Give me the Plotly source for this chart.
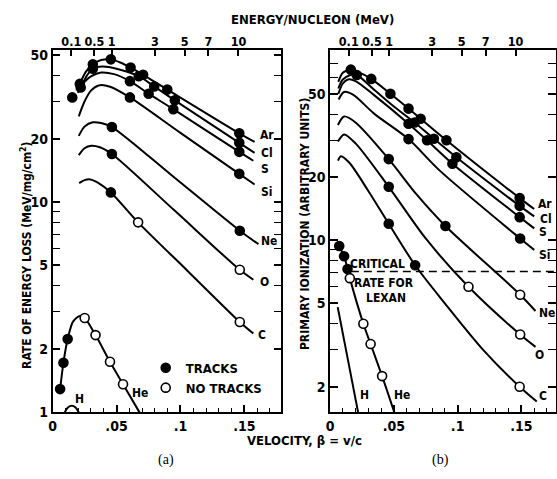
import math
import plotly.graph_objects as go

# ---------------- DATA ----------------
# Panel (a): rate of energy loss (MeV/mg/cm^2) vs velocity beta
AR_A_B = [0.0195, 0.0213, 0.026, 0.0315, 0.038, 0.0456, 0.053, 0.061, 0.0708, 0.0897, 0.146, 0.158]
AR_A_V = [34.5, 36.4, 41.5, 45.1, 47.3, 47.6, 46.0, 43.5, 40.2, 34.2, 21.2, 19.3]
CL_A_B = [0.0198, 0.022, 0.027, 0.0315, 0.039, 0.05, 0.0674, 0.0795, 0.0956, 0.146, 0.158]
CL_A_V = [33.0, 35.0, 40.0, 43.0, 44.0, 43.0, 39.6, 35.4, 30.4, 19.1, 17.1]
S_A_B = [0.0205, 0.025, 0.03, 0.038, 0.048, 0.0605, 0.0751, 0.0944, 0.146, 0.157]
S_A_V = [33.9, 37.2, 39.5, 41.2, 40.5, 37.5, 32.7, 27.6, 17.3, 15.7]
SI_A_B = [0.0205, 0.025, 0.03, 0.036, 0.045, 0.0605, 0.1, 0.146, 0.158]
SI_A_V = [25.5, 30.0, 33.8, 35.8, 35.3, 31.4, 21.3, 13.6, 12.1]
NE_A_B = [0.0205, 0.025, 0.0315, 0.038, 0.0464, 0.095, 0.1464, 0.161]
NE_A_V = [20.6, 22.8, 23.9, 23.7, 22.7, 13.1, 7.3, 6.3]
O_A_B = [0.0205, 0.025, 0.0303, 0.037, 0.0464, 0.095, 0.1464, 0.157]
O_A_V = [16.7, 18.0, 18.5, 18.2, 16.9, 9.15, 4.76, 4.27]
C_A_B = [0.0208, 0.025, 0.0295, 0.036, 0.0456, 0.0669, 0.105, 0.1464, 0.157]
C_A_V = [12.3, 12.7, 12.8, 12.3, 11.1, 8.0, 4.74, 2.69, 2.37]
HE_A_B = [0.0059, 0.0085, 0.0118, 0.016, 0.0213, 0.0251, 0.0336, 0.0449, 0.0551, 0.068]
HE_A_V = [1.29, 1.72, 2.23, 2.7, 2.87, 2.81, 2.33, 1.74, 1.36, 1.0]
H_A_B = [0.0095, 0.012, 0.015, 0.018, 0.0205]
H_A_V = [1.0, 1.055, 1.075, 1.055, 1.0]

# measured points in panel (a): beta, value, T = tracks, N = no tracks
PTS_A_B = [0.0154, 0.0213, 0.0315, 0.0456, 0.061, 0.0708, 0.0897, 0.146,
           0.022, 0.0315, 0.0674, 0.0795, 0.0956, 0.146,
           0.0605, 0.0751, 0.0944, 0.146,
           0.0605, 0.146,
           0.0464, 0.1464,
           0.0464, 0.1464,
           0.0456, 0.0669, 0.1464,
           0.0059, 0.0085, 0.0118, 0.0251, 0.0336, 0.0449, 0.0551]
PTS_A_V = [31.4, 36.4, 45.1, 47.6, 43.5, 40.2, 34.2, 21.2,
           35.0, 43.0, 39.6, 35.4, 30.4, 19.1,
           37.5, 32.7, 27.6, 17.3,
           31.4, 13.6,
           22.7, 7.3,
           16.9, 4.76,
           11.1, 8.0, 2.69,
           1.29, 1.72, 2.23, 2.81, 2.33, 1.74, 1.36]
PTS_A_S = ["T"] * 8 + ["T"] * 6 + ["T"] * 4 + ["T"] * 2 + ["T", "T"] + ["T", "N"] + \
          ["T", "N", "N"] + ["T", "T", "T", "N", "N", "N", "N"]

# Panel (b): primary ionization (arbitrary units) vs velocity beta
AR_B_B = [0.0065, 0.01, 0.0163, 0.0209, 0.0323, 0.0473, 0.0615, 0.071, 0.0912, 0.1486, 0.16]
AR_B_V = [57, 63, 65.2, 64.0, 58.9, 50.0, 42.5, 38.0, 30.0, 15.9, 14.1]
CL_B_B = [0.0065, 0.01, 0.016, 0.0209, 0.035, 0.05, 0.0663, 0.0814, 0.099, 0.1486, 0.16]
CL_B_V = [53, 58.5, 61.5, 61.5, 52.0, 43.5, 36.5, 30.5, 24.9, 14.6, 13.0]
S_B_B = [0.0065, 0.01, 0.014, 0.02, 0.035, 0.0615, 0.076, 0.0959, 0.1486, 0.16]
S_B_V = [50, 56, 58.5, 57.5, 49, 36.0, 30.0, 23.2, 12.9, 11.4]
SI_B_B = [0.0067, 0.011, 0.018, 0.035, 0.0615, 0.086, 0.149, 0.16]
SI_B_V = [47, 51, 49.5, 40, 30.4, 21.5, 10.2, 9.0]
NE_B_B = [0.0062, 0.011, 0.02, 0.046, 0.068, 0.0904, 0.149, 0.161]
NE_B_V = [35.5, 39, 36.5, 24.4, 16.5, 11.7, 5.5, 4.6]
O_B_B = [0.0062, 0.011, 0.02, 0.046, 0.075, 0.1085, 0.149, 0.161]
O_B_V = [29.6, 32, 29, 18.0, 10.2, 6.0, 3.55, 3.1]
C_B_B = [0.0062, 0.0085, 0.015, 0.03, 0.046, 0.0667, 0.09, 0.12, 0.1486, 0.162]
C_B_V = [24, 25.2, 23.5, 17.2, 12.0, 7.6, 5.0, 3.0, 2.0, 1.7]
HE_B_B = [0.0072, 0.011, 0.0137, 0.0155, 0.0261, 0.0318, 0.0408, 0.0504]
HE_B_V = [9.4, 8.4, 7.3, 6.6, 4.0, 3.2, 2.25, 1.51]
H_B_B = [0.006, 0.022]
H_B_V = [4.8, 1.51]

PTS_B_B = [0.0163, 0.0323, 0.0473, 0.0615, 0.071, 0.0912, 0.1486,
           0.0209, 0.0663, 0.0814, 0.099, 0.1486,
           0.0615, 0.076, 0.0959, 0.1486,
           0.0615, 0.149,
           0.046, 0.0904, 0.149,
           0.046, 0.1085, 0.149,
           0.046, 0.0667, 0.1486,
           0.0072, 0.011, 0.0137, 0.0155, 0.0261, 0.0318, 0.0408]
PTS_B_V = [65.2, 58.9, 50.0, 42.5, 38.0, 30.0, 15.9,
           61.5, 36.5, 30.5, 24.9, 14.6,
           36.0, 30.0, 23.2, 12.9,
           30.4, 10.2,
           24.4, 11.7, 5.5,
           18.0, 6.0, 3.55,
           12.0, 7.6, 2.0,
           9.4, 8.4, 7.3, 6.6, 4.0, 3.2, 2.25]
PTS_B_S = ["T"] * 7 + ["T"] * 5 + ["T"] * 4 + ["T"] * 2 + ["T", "T", "N"] + ["T", "N", "N"] + \
          ["T", "T", "N"] + ["T", "T", "T", "N", "N", "N", "N"]

CRITICAL_RATE = 7.1
CRITICAL_FROM = 0.0163

# curve labels (beta, value)
LAB_A_TXT = ["Ar", "Cl", "S", "Si", "Ne", "O", "C", "He", "H"]
LAB_A_B = [0.1674, 0.1674, 0.1659, 0.1674, 0.1690, 0.1659, 0.1636, 0.0682, 0.0209]
LAB_A_V = [20.8, 17.0, 14.3, 11.2, 6.5, 4.15, 2.33, 1.23, 1.16]
LAB_B_TXT = ["Ar", "Cl", "S", "Si", "Ne", "O", "C", "H", "He"]
LAB_B_B = [0.1682, 0.1690, 0.1667, 0.1682, 0.1698, 0.1640, 0.1667, 0.0271, 0.0566]
LAB_B_V = [14.9, 12.7, 11.0, 8.5, 4.5, 2.84, 1.81, 1.83, 1.83]
CRIT_TXT = ["CRITICAL", "RATE FOR", "LEXAN"]
CRIT_B = [0.0372, 0.0426, 0.0442]
CRIT_V = [7.68, 6.28, 5.33]

# axis ticks
X_TICKS = [0, 0.05, 0.1, 0.15]
X_TICK_TXT = ["0", ".05", ".1", ".15"]
X_MINOR = [0.01, 0.02, 0.03, 0.04, 0.06, 0.07, 0.08, 0.09, 0.11, 0.12, 0.13, 0.14, 0.16, 0.17]
ENERGY_TICKS = [0.1, 0.5, 1, 3, 5, 7, 10]          # MeV / nucleon
ENERGY_TXT = ["0.1", "0.5", "1", "3", "5", "7", "10"]
YA_TICKS = [1, 2, 5, 10, 20, 50]
YB_TICKS = [2, 5, 10, 20, 50]
Y_MINOR = [3, 4, 6, 7, 8, 9, 30, 40, 60, 70]

# ---------------- FIGURE ----------------
FONT = "'DejaVu Sans Condensed', 'DejaVu Sans', sans-serif"
SERIF = "'Liberation Serif', 'DejaVu Serif', serif"
W, H = 557, 479


def bold(size):
    return dict(family=FONT, size=size, color="black", weight="bold")


def beta_of_energy(e):
    gamma = 1.0 + e / 931.494
    return math.sqrt(1.0 - 1.0 / gamma ** 2)


ENERGY_BETA = [beta_of_energy(e) for e in ENERGY_TICKS]

fig = go.Figure()


def curve(b, v, xa, ya, shape="spline"):
    fig.add_trace(go.Scatter(x=b, y=v, mode="lines", xaxis=xa, yaxis=ya,
                             line=dict(color="black", width=2, shape=shape, smoothing=0.8),
                             showlegend=False, hoverinfo="skip"))


def points(b, v, s, xa, ya):
    for flag, fill in (("T", "black"), ("N", "white")):
        xs = [x for x, f in zip(b, s) if f == flag]
        ys = [y for y, f in zip(v, s) if f == flag]
        fig.add_trace(go.Scatter(x=xs, y=ys, mode="markers", xaxis=xa, yaxis=ya,
                                 marker=dict(size=9, color=fill, line=dict(color="black", width=1.6)),
                                 showlegend=False, hoverinfo="skip", cliponaxis=False))


for b, v in [(AR_A_B, AR_A_V), (CL_A_B, CL_A_V), (S_A_B, S_A_V), (SI_A_B, SI_A_V),
             (NE_A_B, NE_A_V), (O_A_B, O_A_V), (C_A_B, C_A_V), (HE_A_B, HE_A_V), (H_A_B, H_A_V)]:
    curve(b, v, "x", "y")
points(PTS_A_B, PTS_A_V, PTS_A_S, "x", "y")

for b, v in [(AR_B_B, AR_B_V), (CL_B_B, CL_B_V), (S_B_B, S_B_V), (SI_B_B, SI_B_V),
             (NE_B_B, NE_B_V), (O_B_B, O_B_V), (C_B_B, C_B_V), (HE_B_B, HE_B_V)]:
    curve(b, v, "x2", "y2")
curve(H_B_B, H_B_V, "x2", "y2", shape="linear")
points(PTS_B_B, PTS_B_V, PTS_B_S, "x2", "y2")

XMAX_A = 0.179
XMAX_B = 0.1767
# critical rate for Lexan (dashed)
fig.add_trace(go.Scatter(x=[CRITICAL_FROM, XMAX_B], y=[CRITICAL_RATE, CRITICAL_RATE],
                         mode="lines", xaxis="x2", yaxis="y2",
                         line=dict(color="black", width=1.6, dash="8px,5px"),
                         showlegend=False, hoverinfo="skip"))

# legend entries
fig.add_trace(go.Scatter(x=[None], y=[None], mode="markers", name="TRACKS",
                         marker=dict(size=9, color="black", line=dict(color="black", width=1.6))))
fig.add_trace(go.Scatter(x=[None], y=[None], mode="markers", name="NO TRACKS",
                         marker=dict(size=9, color="white", line=dict(color="black", width=1.6))))

YDOM = [1 - 419 / H, 1 - 48 / H]
XDOM_A = [49 / W, 280 / W]
XDOM_B = [329 / W, 556.5 / W]


def xaxis(dom, xmax, anchor):
    return dict(domain=dom, range=[0, xmax], anchor=anchor, tickmode="array",
                tickvals=X_TICKS, ticktext=X_TICK_TXT, ticks="inside", ticklen=8, tickwidth=1.5,
                tickcolor="black", showline=True, linecolor="black", linewidth=1.5, mirror=True,
                showgrid=False, zeroline=False, tickfont=bold(14),
                minor=dict(tickmode="array", tickvals=X_MINOR, ticks="inside", ticklen=5,
                           tickwidth=1.2, tickcolor="black", showgrid=False))


def topaxis(over, xmax, anchor):
    return dict(overlaying=over, side="top", anchor=anchor, range=[0, xmax], tickmode="array",
                tickvals=ENERGY_BETA, ticktext=ENERGY_TXT, ticks="inside", ticklen=6, tickwidth=1.5,
                tickcolor="black", showline=False, showgrid=False, zeroline=False,
                tickfont=bold(12.5))


def yaxis(rng, ticks, anchor):
    return dict(domain=YDOM, type="log", range=rng, anchor=anchor, tickmode="array",
                tickvals=ticks, ticktext=[str(t) for t in ticks], ticks="inside", ticklen=8,
                tickwidth=1.5, tickcolor="black", showline=True, linecolor="black", linewidth=1.5,
                mirror="allticks", showgrid=False, zeroline=False, tickfont=bold(14),
                minor=dict(tickmode="array", tickvals=Y_MINOR, ticks="inside", ticklen=5,
                           tickwidth=1.2, tickcolor="black", showgrid=False))


annotations = []
for t, b, v in zip(LAB_A_TXT, LAB_A_B, LAB_A_V):
    annotations.append(dict(text=t, x=b, y=math.log10(v), xref="x", yref="y", showarrow=False,
                            font=bold(12)))
for t, b, v in zip(LAB_B_TXT, LAB_B_B, LAB_B_V):
    annotations.append(dict(text=t, x=b, y=math.log10(v), xref="x2", yref="y2", showarrow=False,
                            font=bold(12)))
for t, b, v in zip(CRIT_TXT, CRIT_B, CRIT_V):
    annotations.append(dict(text=t, x=b, y=math.log10(v), xref="x2", yref="y2", showarrow=False,
                            font=bold(12)))


def pa(text, px, py, font, angle=0):
    annotations.append(dict(text=text, x=px / W, y=1 - py / H, xref="paper", yref="paper",
                            showarrow=False, textangle=angle, xanchor="center", yanchor="middle",
                            font=font))


pa("ENERGY/NUCLEON (MeV)", 311, 17, bold(13))
pa("VELOCITY, β = v/c", 303, 448, bold(13))
pa("RATE OF ENERGY LOSS (MeV/mg/cm<sup>2</sup>)", 22, 258, bold(12), angle=-90)
pa("PRIMARY IONIZATION (ARBITRARY UNITS)", 304, 226, bold(12), angle=-90)
pa("(a)", 163, 468, dict(family=SERIF, size=14, color="black"))
pa("(b)", 440, 468, dict(family=SERIF, size=14, color="black"))

fig.update_layout(
    width=W, height=H, margin=dict(l=0, r=0, t=0, b=0),
    paper_bgcolor="white", plot_bgcolor="white",
    xaxis=xaxis(XDOM_A, XMAX_A, "y"),
    xaxis2=xaxis(XDOM_B, XMAX_B, "y2"),
    xaxis3=topaxis("x", XMAX_A, "y"),
    xaxis4=topaxis("x2", XMAX_B, "y2"),
    yaxis=yaxis([0, math.log10(52.8)], YA_TICKS, "x"),
    yaxis2=yaxis([math.log10(1.51), math.log10(81)], YB_TICKS, "x2"),
    annotations=annotations,
    showlegend=True,
    legend=dict(x=143 / W, y=1 - 358 / H, xanchor="left", yanchor="top",
                bgcolor="rgba(0,0,0,0)", itemwidth=30, tracegroupgap=0,
                font=bold(13)),
)
# attach the top (energy) axes to empty traces so they render
fig.add_trace(go.Scatter(x=[None], y=[None], xaxis="x3", yaxis="y", showlegend=False))
fig.add_trace(go.Scatter(x=[None], y=[None], xaxis="x4", yaxis="y2", showlegend=False))

POST = ("document.body.style.margin='0';document.body.style.overflow='hidden';"
        "document.querySelectorAll('svg text').forEach(function(t){t.style.fontStretch='condensed';});")
fig.write_html("out.html", post_script=POST, config={"displayModeBar": False})
